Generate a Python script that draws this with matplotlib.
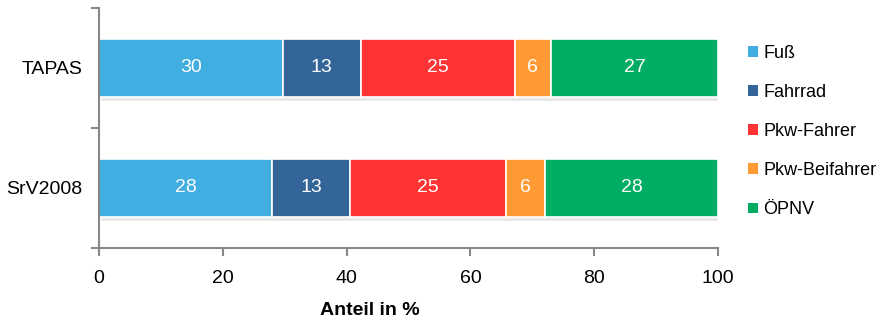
import numpy as np
import matplotlib
matplotlib.use("Agg")
from matplotlib import pyplot as plt
from matplotlib.patches import Patch
import matplotlib.patheffects as pe

plt.rcParams['font.family'] = ['Liberation Sans', 'DejaVu Sans']

# Daten
studien = ['SrV2008', 'TAPAS']
modi = ['Fuß', 'Fahrrad', 'Pkw-Fahrer', 'Pkw-Beifahrer', 'ÖPNV']
farben = ['#41AEE2', '#346598', '#FF3333', '#FF9933', '#00AD62']
anteile = {
    'SrV2008': [28.0, 12.6, 25.1, 6.4, 27.9],
    'TAPAS':   [29.7, 12.6, 24.9, 5.8, 27.0],
}

fig = plt.figure(figsize=(8.83, 3.22), dpi=100)
ax = fig.add_axes([99/883, 1 - 248/322, 619/883, 240/322])

y = np.arange(len(studien))
links = np.zeros(len(studien))
schatten = [pe.SimplePatchShadow(offset=(1.5, -2.5), shadow_rgbFace='#aaaaaa', alpha=0.25), pe.Normal()]
for i, modus in enumerate(modi):
    werte = np.array([anteile[s][i] for s in studien])
    balken = ax.barh(y, werte, left=links, height=0.49, color=farben[i],
                     edgecolor='white', linewidth=1.2, label=modus)
    for b in balken:
        b.set_path_effects(schatten)
    for yy, l, w in zip(y, links, werte):
        ax.text(l + w / 2, yy, f"{w:.0f}", ha='center', va='center',
                color='white', fontsize=14)
    links += werte

ax.set_xlim(0, 100)
ax.set_ylim(-0.5, 1.5)
ax.set_xticks([0, 20, 40, 60, 80, 100])
ax.set_yticks([-0.5, 0.5, 1.5])
ax.set_yticklabels([])
ax.set_yticks(y, minor=True)
ax.set_yticklabels(studien, minor=True)
ax.tick_params(axis='y', which='minor', length=0, pad=12, labelsize=14)
ax.tick_params(axis='y', which='major', length=6, width=1.5, color='#888888', direction='out')
ax.tick_params(axis='x', length=6, width=1.5, color='#888888', direction='out', labelsize=14, pad=10)

for s in ['top', 'right']:
    ax.spines[s].set_visible(False)
for s in ['left', 'bottom']:
    ax.spines[s].set_color('#888888')
    ax.spines[s].set_linewidth(1.5)

ax.set_xlabel('Anteil in %', fontsize=14, fontweight='bold', va='center')
ax.xaxis.set_label_coords(0.438, -0.26)

griffe = [Patch(facecolor=f, edgecolor='none', label=m) for f, m in zip(farben, modi)]
fig.legend(handles=griffe, loc='upper left', bbox_to_anchor=(741/883, 1 - 38/322),
           frameon=False, fontsize=13, handlelength=0.55, handleheight=0.55,
           handletextpad=0.3, labelspacing=1.22, borderaxespad=0)

plt.savefig('out.png', dpi=100)
